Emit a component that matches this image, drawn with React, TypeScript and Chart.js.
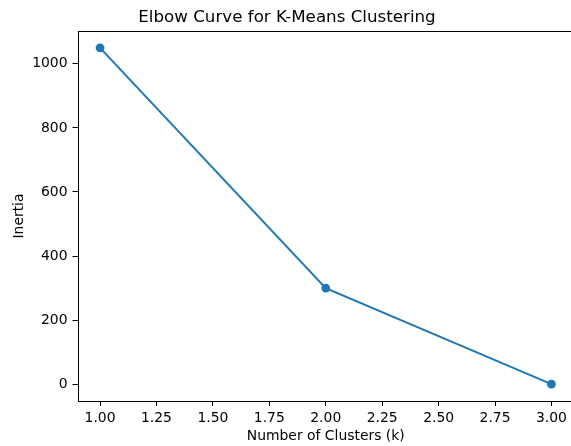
import React, { useEffect, useRef } from "react";
import { Chart, registerables } from "chart.js";

Chart.register(...registerables);

// Elbow curve: inertia for each number of clusters
const kValues = [1, 2, 3];
const inertia = [1050, 300, 0];

// Axis tick labels
const xTicks = [1.0, 1.25, 1.5, 1.75, 2.0, 2.25, 2.5, 2.75, 3.0];
const yTicks = [0, 200, 400, 600, 800, 1000];

const FONT = "'DejaVu Sans', sans-serif";
const LINE_COLOR = "#1f77b4";

// Draws the full rectangular frame around the plotting area
const framePlugin = {
  id: "axesFrame",
  afterDraw(chart: any) {
    const { ctx, chartArea } = chart;
    const l = Math.round(chartArea.left) + 0.5;
    const t = Math.round(chartArea.top) + 0.5;
    const r = Math.round(chartArea.right) - 0.5;
    const b = Math.round(chartArea.bottom) + 0.5;
    ctx.save();
    ctx.strokeStyle = "#000";
    ctx.lineWidth = 1;
    ctx.strokeRect(l, t, r - l, b - t);
    ctx.restore();
  },
};

export default function App() {
  const canvasRef = useRef<HTMLCanvasElement | null>(null);

  useEffect(() => {
    document.body.style.margin = "0";
    document.body.style.background = "#fff";
    const canvas = canvasRef.current;
    if (!canvas) return;

    const chart = new Chart(canvas, {
      type: "line",
      data: {
        datasets: [
          {
            data: kValues.map((k, i) => ({ x: k, y: inertia[i] })),
            borderColor: LINE_COLOR,
            backgroundColor: LINE_COLOR,
            borderWidth: 2,
            pointRadius: 4.4,
            pointBorderWidth: 0,
            pointBackgroundColor: LINE_COLOR,
            tension: 0,
          },
        ],
      },
      plugins: [framePlugin],
      options: {
        animation: false,
        responsive: false,
        maintainAspectRatio: false,
        layout: { padding: 0, autoPadding: false },
        plugins: {
          legend: { display: false },
          tooltip: { enabled: false },
          title: {
            display: true,
            text: "Elbow Curve for K-Means Clustering",
            color: "#000",
            font: { family: FONT, size: 16.7, weight: "normal" as any, lineHeight: 1.2 },
            padding: { top: 8, bottom: 3 },
          },
        },
        scales: {
          x: {
            type: "linear",
            min: 0.9,
            max: 3.1,
            afterBuildTicks: (scale: any) => {
              scale.ticks = xTicks.map((v) => ({ value: v }));
            },
            afterFit: (scale: any) => {
              scale.height = 45;
              scale.paddingLeft = 0;
              scale.paddingRight = 0;
            },
            ticks: {
              color: "#000",
              font: { family: FONT, size: 13.9 },
              padding: 4,
              maxRotation: 0,
              autoSkip: false,
              callback: (v: any) => Number(v).toFixed(2),
            },
            grid: {
              drawOnChartArea: false,
              drawTicks: true,
              tickLength: 5,
              color: "#000",
              lineWidth: 1,
            },
            border: { display: false },
            title: {
              display: true,
              text: "Number of Clusters (k)",
              color: "#000",
              font: { family: FONT, size: 13.9, lineHeight: 1.2 },
              padding: { top: 0, bottom: 1 },
            },
          },
          y: {
            type: "linear",
            min: -52.5,
            max: 1102.5,
            afterBuildTicks: (scale: any) => {
              scale.ticks = yTicks.map((v) => ({ value: v }));
            },
            afterFit: (scale: any) => {
              scale.width = 77.5;
              scale.paddingTop = 0;
              scale.paddingBottom = 0;
            },
            ticks: {
              color: "#000",
              font: { family: FONT, size: 13.9 },
              padding: 5,
              autoSkip: false,
              callback: (v: any) => String(v),
            },
            grid: {
              drawOnChartArea: false,
              drawTicks: true,
              tickLength: 5,
              color: "#000",
              lineWidth: 1,
            },
            border: { display: false },
            title: {
              display: true,
              text: "Inertia",
              color: "#000",
              font: { family: FONT, size: 13.9, lineHeight: 1.2 },
              padding: { top: 11, bottom: 0 },
            },
          },
        },
      },
    });

    return () => chart.destroy();
  }, []);

  return (
    <div style={{ width: 571, height: 446, overflow: "hidden", background: "#fff" }}>
      <canvas ref={canvasRef} width={574} height={446} style={{ display: "block" }} />
    </div>
  );
}
